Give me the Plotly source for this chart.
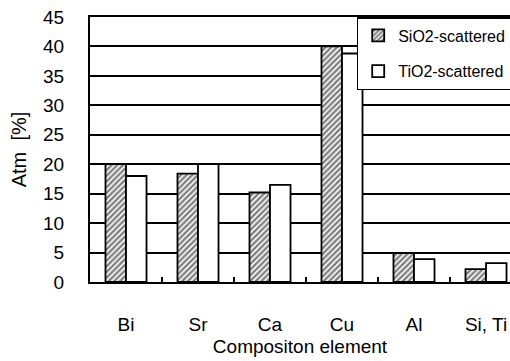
import plotly.graph_objects as go

categories = ["Bi", "Sr", "Ca", "Cu", "Al", "Si, Ti"]
sio2_values = [20.0, 18.4, 15.2, 40.0, 4.9, 2.2]
tio2_values = [18.0, 20.0, 16.5, 38.8, 3.9, 3.2]
series_names = ["SiO2-scattered", "TiO2-scattered"]
y_ticks = [0, 5, 10, 15, 20, 25, 30, 35, 40, 45]

FONT = "Liberation Sans, Arial, sans-serif"

fig = go.Figure()
fig.add_trace(go.Bar(
    x=categories, y=sio2_values, name=series_names[0], legendgroup="a",
    marker=dict(color="white", line=dict(color="black", width=1.8),
                pattern=dict(shape="/", fgcolor="black", bgcolor="white",
                             size=4, solidity=0.6)),
))
fig.add_trace(go.Bar(
    x=categories, y=tio2_values, name=series_names[1], legendgroup="b",
    marker=dict(color="white", line=dict(color="black", width=1.8)),
))

fig.update_layout(
    width=510, height=361,
    margin=dict(l=90, r=0, t=17, b=79, autoexpand=False),
    paper_bgcolor="white", plot_bgcolor="white",
    barmode="group", bargap=0.43, bargroupgap=0,
    font=dict(family=FONT, color="black"),
    showlegend=True,
    legend=dict(x=0.635, y=1, xanchor="left", yanchor="top",
                bgcolor="white", bordercolor="black", borderwidth=1.5,
                font=dict(size=16, family=FONT), tracegroupgap=12,
                itemwidth=30),
    xaxis=dict(range=[-0.5, 5.5 - 12 / 72], showline=True, mirror=True,
               linecolor="black", linewidth=2, ticks="inside",
               tickson="boundaries", ticklen=5, tickwidth=1.5,
               tickcolor="black", showgrid=False,
               tickfont=dict(size=19), ticklabelstandoff=24,
               title=dict(text="Compositon element", font=dict(size=19),
                          standoff=6)),
    yaxis=dict(range=[0, 45], tickvals=y_ticks, showline=True,
               linecolor="black", linewidth=2, showgrid=True,
               gridcolor="black", gridwidth=2, zeroline=False,
               ticks="", tickfont=dict(size=19), ticklabelstandoff=20,
               title=dict(text="Atm\u00a0\u00a0[%]", font=dict(size=20),
                          standoff=11)),
)

fig.write_html("out.html")
